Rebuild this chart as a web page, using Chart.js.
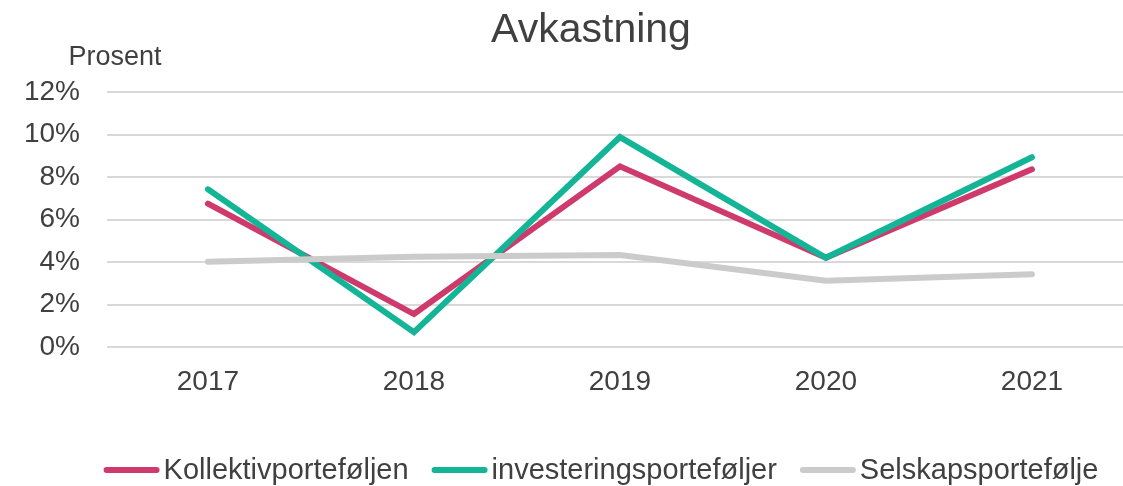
<!DOCTYPE html>
<html>
<head>
<meta charset="utf-8">
<script src="https://cdn.jsdelivr.net/npm/chart.js@4.4.1/dist/chart.umd.min.js"></script>
<style>
  html, body { margin: 0; padding: 0; background: #fff; overflow: hidden; }
  #wrap { width: 1123px; height: 486px; }
</style>
</head>
<body>
<div id="wrap"><canvas id="avkChart" width="1123" height="486"></canvas></div>
<script>
const years = [2017, 2018, 2019, 2020, 2021];
const kollektiv = [6.75, 1.55, 8.5, 4.2, 8.36];
const investering = [7.42, 0.7, 9.88, 4.2, 8.93];
const selskap = [4.01, 4.25, 4.33, 3.12, 3.42];
const seriesNames = ['Kollektivporteføljen', 'investeringsporteføljer', 'Selskapsportefølje'];

const FONT = '"Liberation Sans", Arial, sans-serif';
const TEXT = '#404040';

function pts(vals) {
    return years.map((y, i) => ({ x: y, y: vals[i] }));
}

// title, axis caption and legend drawn by hand to match the Excel layout
const extras = {
    id: 'extras',
    afterDraw(chart) {
        const c = chart.ctx;
        c.save();
        c.fillStyle = TEXT;
        c.textBaseline = 'middle';
        c.textAlign = 'center';
        c.font = '41px ' + FONT;
        c.fillText('Avkastning', 591, 31);
        c.font = '27px ' + FONT;
        c.fillText('Prosent', 115, 58);

        c.font = '29px ' + FONT;
        c.textAlign = 'left';
        const lineLen = 50, gapText = 7, gapItem = 23;
        const items = chart.data.datasets.map(ds => ({
            label: ds.label, color: ds.borderColor, w: c.measureText(ds.label).width
        }));
        let total = 0;
        items.forEach((it, i) => {
            total += 3 + lineLen + 3 + gapText - 3 + it.w + (i < items.length - 1 ? gapItem : 0);
        });
        let x = 601 - total / 2;
        const y = 470;
        items.forEach(it => {
            c.strokeStyle = it.color;
            c.lineWidth = 6;
            c.lineCap = 'round';
            c.beginPath();
            c.moveTo(x + 3, y);
            c.lineTo(x + 3 + lineLen, y);
            c.stroke();
            x += 3 + lineLen + gapText;
            c.fillText(it.label, x, y + 1);
            x += it.w + gapItem;
        });
        c.restore();
    }
};

new Chart(document.getElementById('avkChart').getContext('2d'), {
    type: 'line',
    data: {
        datasets: [
            { label: seriesNames[0], data: pts(kollektiv), borderColor: '#cf3a6c', order: 3 },
            { label: seriesNames[1], data: pts(investering), borderColor: '#13b596', order: 2 },
            { label: seriesNames[2], data: pts(selskap), borderColor: '#cbcbcb', order: 1 }
        ]
    },
    options: {
        responsive: false,
        animation: false,
        layout: { padding: { top: 92, bottom: 0, left: 0, right: 0 } },
        elements: {
            line: { borderWidth: 6, tension: 0, borderCapStyle: 'round', borderJoinStyle: 'miter', fill: false },
            point: { radius: 0, hoverRadius: 0 }
        },
        plugins: {
            legend: { display: false },
            title: { display: false },
            tooltip: { enabled: false }
        },
        scales: {
            x: {
                type: 'linear',
                min: 2016.51,
                max: 2021.442,
                grid: { display: false, drawTicks: false },
                border: { display: false },
                ticks: {
                    stepSize: 1,
                    includeBounds: false,
                    padding: 18,
                    color: TEXT,
                    font: { family: FONT, size: 28 },
                    callback: v => String(v)
                },
                afterFit: s => { s.height = 139; }
            },
            y: {
                min: 0,
                max: 12,
                grid: { color: '#d9d9d9', lineWidth: 2, drawTicks: false },
                border: { display: false },
                ticks: {
                    stepSize: 2,
                    padding: 27,
                    color: TEXT,
                    font: { family: FONT, size: 28 },
                    callback: v => v + '%'
                },
                afterFit: s => { s.width = 107; }
            }
        }
    },
    plugins: [extras]
});
</script>
</body>
</html>
